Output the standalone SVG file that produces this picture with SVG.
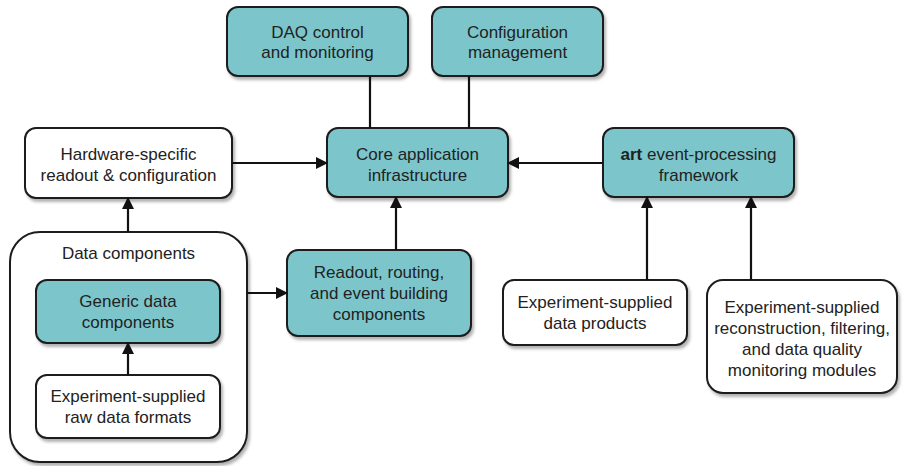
<svg xmlns="http://www.w3.org/2000/svg" width="907" height="466" viewBox="0 0 907 466">
<defs>
<marker id="ah" markerWidth="12" markerHeight="12" refX="11" refY="6" orient="auto" markerUnits="userSpaceOnUse">
<path d="M0,0 L12,6 L0,12 Z" fill="#111"/>
</marker>
<filter id="sh" x="-10%" y="-10%" width="130%" height="140%">
<feDropShadow dx="2" dy="3" stdDeviation="1.5" flood-color="#000" flood-opacity="0.3"/>
</filter>
</defs>
<style>
.teal{fill:#7cc6cb;stroke:#1c1c1c;stroke-width:2;filter:url(#sh)}
.white{fill:#fff;stroke:#1c1c1c;stroke-width:2;filter:url(#sh)}
text{font-family:"Liberation Sans",Arial,sans-serif;font-size:17px;fill:#222;text-anchor:middle}
.c{stroke:#111;stroke-width:2.2;fill:none}
.a{marker-end:url(#ah)}
</style>
<rect width="907" height="466" fill="#fff"/>
<g id="daq">
<rect class="teal" x="227" y="7" width="181" height="69" rx="11"/>
<text x="317.5" y="37.5">DAQ control</text>
<text x="317.5" y="58">and monitoring</text>
</g>
<g id="config">
<rect class="teal" x="432" y="7" width="171" height="69" rx="11"/>
<text x="517.5" y="37.5">Configuration</text>
<text x="517.5" y="58">management</text>
</g>
<g id="core">
<rect class="teal" x="327" y="128" width="181" height="69" rx="11"/>
<text x="417.5" y="160">Core application</text>
<text x="417.5" y="181">infrastructure</text>
</g>
<g id="hardware">
<rect class="white" x="25" y="128" width="207" height="70" rx="11"/>
<text x="128.5" y="160">Hardware-specific</text>
<text x="128.5" y="181">readout &amp; configuration</text>
</g>
<g id="art">
<rect class="teal" x="603" y="128" width="191" height="69" rx="11"/>
<text x="698.5" y="160"><tspan font-weight="bold">art</tspan> event-processing</text>
<text x="698.5" y="181">framework</text>
</g>
<g id="datacomponents">
<rect class="white" x="10" y="232" width="237" height="230" rx="30"/>
<text x="128.5" y="259">Data components</text>
</g>
<g id="generic">
<rect class="teal" x="36" y="280" width="184" height="63" rx="11"/>
<text x="128" y="306.5">Generic data</text>
<text x="128" y="327.5">components</text>
</g>
<g id="rawformats">
<rect class="white" x="36" y="375" width="184" height="63" rx="11"/>
<text x="128" y="401.5">Experiment-supplied</text>
<text x="128" y="422.5">raw data formats</text>
</g>
<g id="readout">
<rect class="teal" x="287" y="250" width="184" height="86" rx="11"/>
<text x="379" y="278">Readout, routing,</text>
<text x="379" y="299">and event building</text>
<text x="379" y="320">components</text>
</g>
<g id="dataproducts">
<rect class="white" x="503" y="280" width="184" height="65" rx="11"/>
<text x="595" y="307.5">Experiment-supplied</text>
<text x="595" y="328.5">data products</text>
</g>
<g id="reco">
<rect class="white" x="707" y="280" width="190" height="113" rx="16"/>
<text x="802" y="313">Experiment-supplied</text>
<text x="802" y="334">reconstruction, filtering,</text>
<text x="802" y="355">and data quality</text>
<text x="802" y="376">monitoring modules</text>
</g>
<g id="connectors">
<line class="c" x1="370" y1="76" x2="370" y2="128"/>
<line class="c" x1="469" y1="76" x2="469" y2="128"/>
<line class="c a" x1="232" y1="163" x2="327" y2="163"/>
<line class="c a" x1="603" y1="163" x2="508" y2="163"/>
<line class="c a" x1="396" y1="250" x2="396" y2="197"/>
<line class="c a" x1="128" y1="232" x2="128" y2="198"/>
<line class="c a" x1="247" y1="293" x2="287" y2="293"/>
<line class="c a" x1="128" y1="375" x2="128" y2="343"/>
<line class="c a" x1="647" y1="280" x2="647" y2="197"/>
<line class="c a" x1="751" y1="280" x2="751" y2="197"/>
</g>
</svg>
